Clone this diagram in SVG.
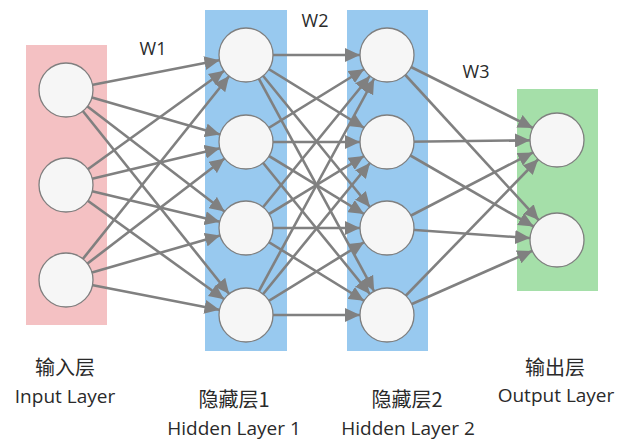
<svg xmlns="http://www.w3.org/2000/svg" width="619" height="441" viewBox="0 0 619 441">
<defs>
<style>
.node{fill:#f6f6f6;stroke:#7f7f7f;stroke-width:1.3}
.edge{stroke:#808080;stroke-width:2.6;fill:none;marker-end:url(#arr)}
.t{font-family:"Open Sans","Noto Sans CJK SC",sans-serif;fill:#2a2a2a;text-anchor:middle}
.w{font-size:18px}
.cn{font-size:20px;font-family:"Noto Sans CJK SC","Open Sans",sans-serif}
.en{font-size:19px}
</style>
<marker id="arr" markerUnits="userSpaceOnUse" viewBox="0 0 42 14" markerWidth="42" markerHeight="14" refX="42" refY="7" orient="auto">
<path d="M0 0 L15 7 L0 14 z" fill="#808080"/>
</marker>
</defs>
<rect width="619" height="441" fill="#fff"/>
<rect x="26" y="45" width="81" height="280" fill="#f4c1c3"/>
<rect x="205" y="10" width="82" height="341" fill="#98c9ef"/>
<rect x="347" y="10" width="81" height="341" fill="#98c9ef"/>
<rect x="517" y="89" width="81" height="202" fill="#a5dfa9"/>
<g id="connectors">
<line class="edge" x1="66" y1="90" x2="246" y2="55"/>
<line class="edge" x1="66" y1="90" x2="246" y2="142"/>
<line class="edge" x1="66" y1="90" x2="246" y2="228"/>
<line class="edge" x1="66" y1="90" x2="246" y2="315"/>
<line class="edge" x1="66" y1="185" x2="246" y2="55"/>
<line class="edge" x1="66" y1="185" x2="246" y2="142"/>
<line class="edge" x1="66" y1="185" x2="246" y2="228"/>
<line class="edge" x1="66" y1="185" x2="246" y2="315"/>
<line class="edge" x1="66" y1="280" x2="246" y2="55"/>
<line class="edge" x1="66" y1="280" x2="246" y2="142"/>
<line class="edge" x1="66" y1="280" x2="246" y2="228"/>
<line class="edge" x1="66" y1="280" x2="246" y2="315"/>
<line class="edge" x1="246" y1="55" x2="387" y2="55"/>
<line class="edge" x1="246" y1="55" x2="387" y2="142"/>
<line class="edge" x1="246" y1="55" x2="387" y2="228"/>
<line class="edge" x1="246" y1="55" x2="387" y2="315"/>
<line class="edge" x1="246" y1="142" x2="387" y2="55"/>
<line class="edge" x1="246" y1="142" x2="387" y2="142"/>
<line class="edge" x1="246" y1="142" x2="387" y2="228"/>
<line class="edge" x1="246" y1="142" x2="387" y2="315"/>
<line class="edge" x1="246" y1="228" x2="387" y2="55"/>
<line class="edge" x1="246" y1="228" x2="387" y2="142"/>
<line class="edge" x1="246" y1="228" x2="387" y2="228"/>
<line class="edge" x1="246" y1="228" x2="387" y2="315"/>
<line class="edge" x1="246" y1="315" x2="387" y2="55"/>
<line class="edge" x1="246" y1="315" x2="387" y2="142"/>
<line class="edge" x1="246" y1="315" x2="387" y2="228"/>
<line class="edge" x1="246" y1="315" x2="387" y2="315"/>
<line class="edge" x1="387" y1="55" x2="557" y2="140"/>
<line class="edge" x1="387" y1="55" x2="557" y2="240"/>
<line class="edge" x1="387" y1="142" x2="557" y2="140"/>
<line class="edge" x1="387" y1="142" x2="557" y2="240"/>
<line class="edge" x1="387" y1="228" x2="557" y2="140"/>
<line class="edge" x1="387" y1="228" x2="557" y2="240"/>
<line class="edge" x1="387" y1="315" x2="557" y2="140"/>
<line class="edge" x1="387" y1="315" x2="557" y2="240"/>
</g>
<g id="in1"><circle class="node" cx="66" cy="90" r="27"/></g>
<g id="in2"><circle class="node" cx="66" cy="185" r="27"/></g>
<g id="in3"><circle class="node" cx="66" cy="280" r="27"/></g>
<g id="h1a"><circle class="node" cx="246" cy="55" r="27"/></g>
<g id="h1b"><circle class="node" cx="246" cy="142" r="27"/></g>
<g id="h1c"><circle class="node" cx="246" cy="228" r="27"/></g>
<g id="h1d"><circle class="node" cx="246" cy="315" r="27"/></g>
<g id="h2a"><circle class="node" cx="387" cy="55" r="27"/></g>
<g id="h2b"><circle class="node" cx="387" cy="142" r="27"/></g>
<g id="h2c"><circle class="node" cx="387" cy="228" r="27"/></g>
<g id="h2d"><circle class="node" cx="387" cy="315" r="27"/></g>
<g id="out1"><circle class="node" cx="557" cy="140" r="27"/></g>
<g id="out2"><circle class="node" cx="557" cy="240" r="27"/></g>
<g id="labels">
<text class="t w" x="153" y="55">W1</text>
<text class="t w" x="315" y="27">W2</text>
<text class="t w" x="476" y="78">W3</text>
<text class="t cn" x="65" y="375">输入层</text>
<text class="t en" x="65" y="403">Input Layer</text>
<text class="t cn" x="234" y="407">隐藏层1</text>
<text class="t en" x="234" y="435">Hidden Layer 1</text>
<text class="t cn" x="407" y="407">隐藏层2</text>
<text class="t en" x="408" y="435">Hidden Layer 2</text>
<text class="t cn" x="555" y="375">输出层</text>
<text class="t en" x="556" y="402">Output Layer</text>
</g>
</svg>
